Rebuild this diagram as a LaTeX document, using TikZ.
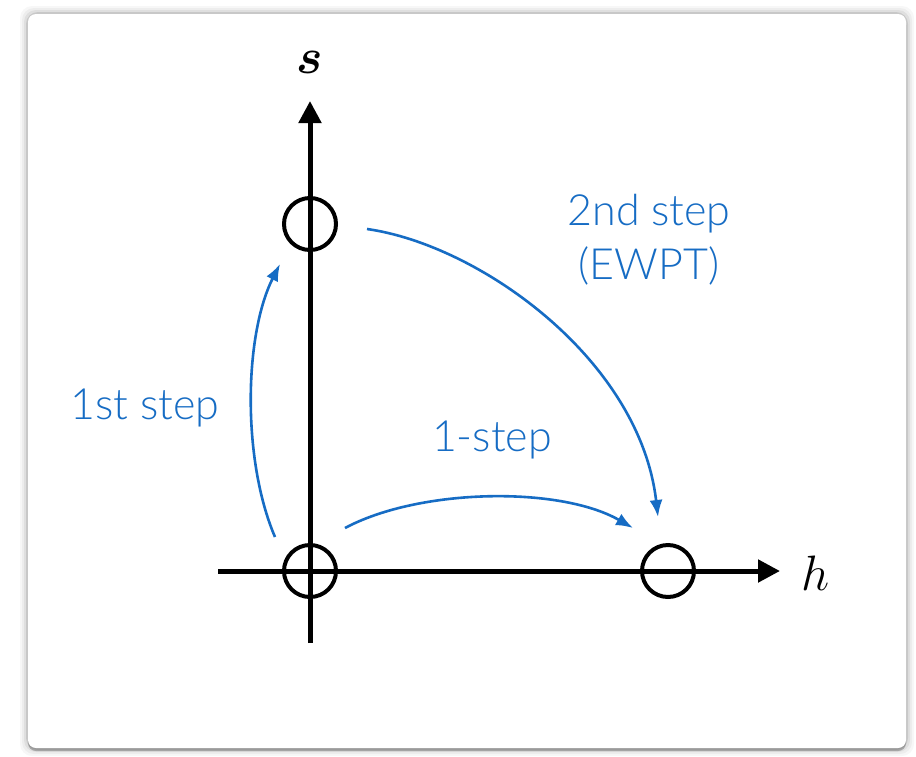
\documentclass[tikz,border=0pt]{standalone}
\usepackage{amsmath,bm}
\usepackage{fontspec}
\setmainfont{Lato}[UprightFont=* Light]
\usepackage{tikz}
\usetikzlibrary{arrows.meta,shadows}
\definecolor{stepblue}{RGB}{22, 108, 196}
\definecolor{cardshade}{RGB}{110, 110, 110}

\begin{document}
\begin{tikzpicture}[x=0.5pt, y=-0.5pt,
    vacuum/.style={circle, draw=black, line width=2pt, minimum size=26pt, inner sep=0pt},
    axis/.style={line width=2.5pt, -{Triangle[length=11pt,width=11pt]}},
    steparrow/.style={stepblue, line width=1.3pt, -{Latex[length=8.5pt,width=6.5pt]}},
    steplabel/.style={stepblue, font=\fontsize{21.5}{27}\selectfont, align=center}]
    \useasboundingbox (0,0) rectangle (916,756);
    \fill[white] (0,0) rectangle (916,756);

    % Card with a soft halo
    \foreach \d/\o in {8/0.03, 6/0.04, 4/0.06, 2/0.10}
        \fill[black, opacity=\o, rounded corners=6pt] (28-\d,14-\d) rectangle (906+\d,748+\d);
    \fill[white, rounded corners=4pt, drop shadow={opacity=0.5, shadow xshift=0pt, shadow yshift=-1.5pt, fill=cardshade}]
        (28,14) rectangle (906,748);

    % Axes
    \coordinate (O) at (310,571);
    \draw[axis] (310,643) -- (310,101) coordinate (stip);
    \draw[axis] (218,571) -- (780,571) coordinate (htip);
    \node (slabel) at (310,62) {\fontsize{28}{28}\selectfont $\bm{s}$};
    \node (hlabel) at (816,573) {\fontsize{31}{31}\selectfont $h$};

    % Vacua
    \node[vacuum] (o) at (O) {};
    \node[vacuum] (sv) at (310,224) {};
    \node[vacuum] (hv) at (668,571) {};

    % Arrow ends
    \coordinate (a1s) at (275,537);
    \coordinate (a1e) at (280,264);
    \coordinate (a2s) at (345,528);
    \coordinate (a2e) at (633,528);
    \coordinate (a3s) at (367,229);
    \coordinate (a3e) at (658,517);

    % Transitions
    \draw[steparrow] (a1s) .. controls (242,460) and (244,335) .. (a1e);
    \draw[steparrow] (a2s) .. controls (420,488) and (560,486) .. (a2e);
    \draw[steparrow] (a3s) .. controls (480,245) and (640,360) .. (a3e);

    % Labels
    \node[steplabel] (first) at (145,408) {1st step};
    \node[steplabel] (direct) at (492,440) {1-step};
    \node[steplabel] (second) at (649,240) {2nd step\\(EWPT)};
\end{tikzpicture}
\end{document}
